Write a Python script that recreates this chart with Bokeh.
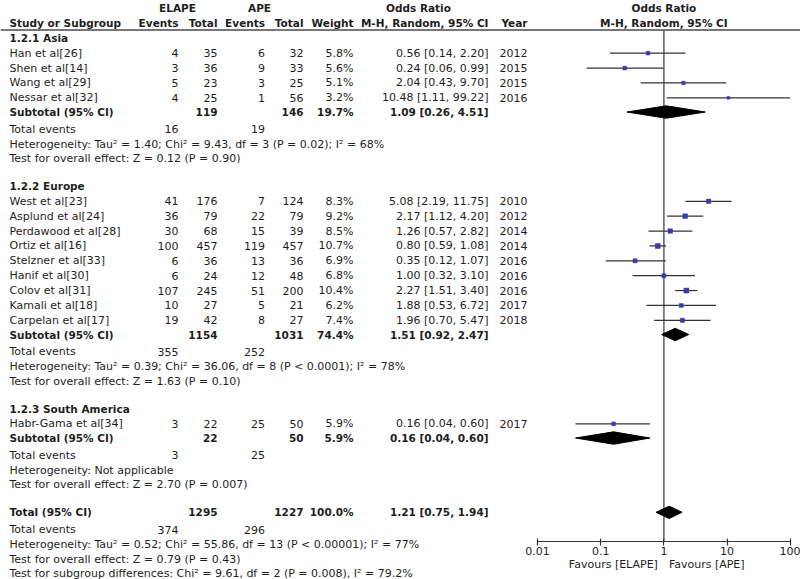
import math
from bokeh.plotting import figure
from bokeh.models import (Range1d, LogScale, LogAxis, FixedTicker,
                          CustomJSTickFormatter, Span)
from bokeh.core.properties import value
from bokeh.embed import file_html
from bokeh.resources import INLINE

# ---------------- data ----------------
group_names = ["1.2.1 Asia", "1.2.2 Europe", "1.2.3 South America"]
study_names = ["Han et al[26]", "Shen et al[14]", "Wang et al[29]", "Nessar et al[32]",
               "West et al[23]", "Asplund et al[24]", "Perdawood et al[28]", "Ortiz et al[16]",
               "Stelzner et al[33]", "Hanif et al[30]", "Colov et al[31]", "Kamali et al[18]",
               "Carpelan et al[17]", "Habr-Gama et al[34]"]
study_group = [0, 0, 0, 0, 1, 1, 1, 1, 1, 1, 1, 1, 1, 2]
elape_events = [4, 3, 5, 4, 41, 36, 30, 100, 6, 6, 107, 10, 19, 3]
elape_total = [35, 36, 23, 25, 176, 79, 68, 457, 36, 24, 245, 27, 42, 22]
ape_events = [6, 9, 3, 1, 7, 22, 15, 119, 13, 12, 51, 5, 8, 25]
ape_total = [32, 33, 25, 56, 124, 79, 39, 457, 36, 48, 200, 21, 27, 50]
weight_pct = [5.8, 5.6, 5.1, 3.2, 8.3, 9.2, 8.5, 10.7, 6.9, 6.8, 10.4, 6.2, 7.4, 5.9]
odds_ratio = [0.56, 0.24, 2.04, 10.48, 5.08, 2.17, 1.26, 0.80, 0.35, 1.00, 2.27, 1.88, 1.96, 0.16]
ci_lower = [0.14, 0.06, 0.43, 1.11, 2.19, 1.12, 0.57, 0.59, 0.12, 0.32, 1.51, 0.53, 0.70, 0.04]
ci_upper = [2.20, 0.99, 9.70, 99.22, 11.75, 4.20, 2.82, 1.08, 1.07, 3.10, 3.40, 6.72, 5.47, 0.60]
study_year = [2012, 2015, 2015, 2016, 2010, 2012, 2014, 2014, 2016, 2016, 2016, 2017, 2018, 2017]

sub_elape_total = [119, 1154, 22]
sub_ape_total = [146, 1031, 50]
sub_weight = [19.7, 74.4, 5.9]
sub_or = [1.09, 1.51, 0.16]
sub_lower = [0.26, 0.92, 0.04]
sub_upper = [4.51, 2.47, 0.60]
sub_elape_events = [16, 355, 3]
sub_ape_events = [19, 252, 25]
sub_heterogeneity = ["Heterogeneity: Tau\u00b2 = 1.40; Chi\u00b2 = 9.43, df = 3 (P = 0.02); I\u00b2 = 68%",
                     "Heterogeneity: Tau\u00b2 = 0.39; Chi\u00b2 = 36.06, df = 8 (P < 0.0001); I\u00b2 = 78%",
                     "Heterogeneity: Not applicable"]
sub_overall = ["Test for overall effect: Z = 0.12 (P = 0.90)",
               "Test for overall effect: Z = 1.63 (P = 0.10)",
               "Test for overall effect: Z = 2.70 (P = 0.007)"]

total_elape_total = 1295
total_ape_total = 1227
total_weight = 100.0
total_or = 1.21
total_lower = 0.75
total_upper = 1.94
total_elape_events = 374
total_ape_events = 296
total_heterogeneity = "Heterogeneity: Tau\u00b2 = 0.52; Chi\u00b2 = 55.86, df = 13 (P < 0.00001); I\u00b2 = 77%"
total_overall = "Test for overall effect: Z = 0.79 (P = 0.43)"
total_subgroup = "Test for subgroup differences: Chi\u00b2 = 9.61, df = 2 (P = 0.008), I\u00b2 = 79.2%"

header_top = ["ELAPE", "APE", "Odds Ratio"]
header_cols = ["Study or Subgroup", "Events", "Total", "Events", "Total", "Weight",
               "M-H, Random, 95% CI", "Year"]
forest_header = ["Odds Ratio", "M-H, Random, 95% CI"]
axis_ticks = [0.01, 0.1, 1, 10, 100]
favour_labels = ["Favours [ELAPE]", "Favours [APE]"]

# ---------------- layout / style ----------------
FONT = "DejaVu Sans"
REG_SIZE = "11px"
BOLD_SIZE = "10.5px"
TXT = "#1e1e1e"
BLUE = "#3a3aa8"
REF_W, REF_H = 800, 579
X_ONE, DECADE = 663.4, 63.2          # px of OR=1 and px per decade
COL_LABEL, COL_EE, COL_ET, COL_AE, COL_AT, COL_W, COL_OR, COL_YEAR = 9, 178, 217, 264.5, 303, 353, 488, 527
HEAD1_Y, HEAD2_Y, RULE_Y, AXIS_Y = 7.5, 22.5, 29.5, 541

p = figure(width=REF_W, height=REF_H, x_range=Range1d(0, REF_W), y_range=Range1d(REF_H, 0),
           x_axis_type=None, y_axis_type=None, toolbar_location=None,
           output_backend="svg", min_border=0, outline_line_color=None)
p.background_fill_color = "white"
p.border_fill_color = "white"
p.extra_x_ranges = {"or": Range1d(10 ** ((0 - X_ONE) / DECADE), 10 ** ((REF_W - X_ONE) / DECADE))}
p.extra_x_scales = {"or": LogScale()}

texts = {}


def put(x, y, s, align="left", bold=False, rng="default", xoff=0):
    d = texts.setdefault((align, bold, rng, xoff), {"x": [], "y": [], "t": []})
    d["x"].append(x)
    d["y"].append(y)
    d["t"].append(s)


def fmt_or(e, lo, hi):
    return f"{e:.2f} [{lo:.2f}, {hi:.2f}]"


# headers
put(177, HEAD1_Y, header_top[0], "center", True)
put(259, HEAD1_Y, header_top[1], "center", True)
put(418, HEAD1_Y, header_top[2], "center", True)
put(COL_LABEL, HEAD2_Y, header_cols[0], "left", True)
for xx, s in zip([COL_EE, COL_ET, COL_AE, COL_AT, COL_W, COL_OR, COL_YEAR], header_cols[1:]):
    put(xx, HEAD2_Y, s, "right", True)
put(1, HEAD1_Y, forest_header[0], "center", True, "or")
put(1, HEAD2_Y, forest_header[1], "center", True, "or")

# rows
seg_x0, seg_x1, seg_y = [], [], []
sq_x, sq_y, sq_s = [], [], []
dia_xs, dia_ys = [], []
HALF = 6.2

y = 37.7
for g, gname in enumerate(group_names):
    put(COL_LABEL, y, gname, "left", True)
    y += 15
    idx = [i for i, gg in enumerate(study_group) if gg == g]
    for k, i in enumerate(idx):
        if k > 0:
            y += 14.875
        put(COL_LABEL, y, study_names[i])
        put(COL_EE, y, str(elape_events[i]), "right")
        put(COL_ET, y, str(elape_total[i]), "right")
        put(COL_AE, y, str(ape_events[i]), "right")
        put(COL_AT, y, str(ape_total[i]), "right")
        put(COL_W, y, f"{weight_pct[i]:.1f}%", "right")
        put(COL_OR, y, fmt_or(odds_ratio[i], ci_lower[i], ci_upper[i]), "right")
        put(COL_YEAR, y, str(study_year[i]), "right")
        seg_x0.append(ci_lower[i]); seg_x1.append(ci_upper[i]); seg_y.append(y)
        sq_x.append(odds_ratio[i]); sq_y.append(y); sq_s.append(1.55 * math.sqrt(weight_pct[i]))
    y += 14.2
    put(COL_LABEL, y, "Subtotal (95% CI)", "left", True)
    put(COL_ET, y, str(sub_elape_total[g]), "right", True)
    put(COL_AT, y, str(sub_ape_total[g]), "right", True)
    put(COL_W, y, f"{sub_weight[g]:.1f}%", "right", True)
    put(COL_OR, y, fmt_or(sub_or[g], sub_lower[g], sub_upper[g]), "right", True)
    dia_xs.append([sub_lower[g], sub_or[g], sub_upper[g], sub_or[g]])
    dia_ys.append([y, y - HALF, y, y + HALF])
    y += 17.3
    put(COL_LABEL, y, "Total events")
    put(COL_EE, y, str(sub_elape_events[g]), "right")
    put(COL_AE, y, str(sub_ape_events[g]), "right")
    y += 15
    put(COL_LABEL, y, sub_heterogeneity[g])
    y += 14.5
    put(COL_LABEL, y, sub_overall[g])
    y += 27.5

put(COL_LABEL, y, "Total (95% CI)", "left", True)
put(COL_ET, y, str(total_elape_total), "right", True)
put(COL_AT, y, str(total_ape_total), "right", True)
put(COL_W, y, f"{total_weight:.1f}%", "right", True)
put(COL_OR, y, fmt_or(total_or, total_lower, total_upper), "right", True)
dia_xs.append([total_lower, total_or, total_upper, total_or])
dia_ys.append([y, y - HALF, y, y + HALF])
y += 17.3
put(COL_LABEL, y, "Total events")
put(COL_EE, y, str(total_elape_events), "right")
put(COL_AE, y, str(total_ape_events), "right")
y += 15
put(COL_LABEL, y, total_heterogeneity)
y += 14.5
put(COL_LABEL, y, total_overall)
y += 14.5
put(COL_LABEL, y, total_subgroup)

# favours labels
put(1, 564, favour_labels[0], "right", False, "or", -6)
put(1, 564, favour_labels[1], "left", False, "or", 5)

# ---------------- glyphs ----------------
p.add_layout(Span(location=RULE_Y, dimension="width", line_color="#4a4a4a", line_width=1.3))
p.segment(x0=[1], x1=[1], y0=[RULE_Y], y1=[AXIS_Y], x_range_name="or",
          line_color="#5e5e5e", line_width=1.5)
p.segment(x0=seg_x0, x1=seg_x1, y0=seg_y, y1=seg_y, x_range_name="or",
          line_color="#333333", line_width=1.2)
p.scatter(x=sq_x, y=sq_y, size=sq_s, marker="square", x_range_name="or",
          fill_color=BLUE, line_color=BLUE, line_width=0.5)
p.patches(xs=dia_xs, ys=dia_ys, x_range_name="or", fill_color="black", line_color="black")

for (align, bold, rng, xoff), d in texts.items():
    kw = {"x_range_name": rng} if rng != "default" else {}
    p.text(x=d["x"], y=d["y"], text=d["t"], text_align=align, text_baseline="middle",
           text_font=value(FONT), text_font_size=BOLD_SIZE if bold else REG_SIZE,
           text_font_style="bold" if bold else "normal", text_color=TXT,
           x_offset=xoff, **kw)

ax = LogAxis(x_range_name="or", bounds=(axis_ticks[0], axis_ticks[-1]), fixed_location=AXIS_Y,
             ticker=FixedTicker(ticks=axis_ticks),
             formatter=CustomJSTickFormatter(code="return tick.toString()"))
ax.axis_line_color = "#333333"
ax.axis_line_width = 1.2
ax.major_tick_line_color = "#333333"
ax.major_tick_line_width = 1.2
ax.major_tick_in = 3
ax.major_tick_out = 4
ax.minor_tick_line_color = None
ax.major_label_standoff = 1
ax.major_label_text_font = FONT
ax.major_label_text_font_size = REG_SIZE
ax.major_label_text_color = TXT
p.add_layout(ax, "below")

open("out.html", "w").write(file_html(p, INLINE))
